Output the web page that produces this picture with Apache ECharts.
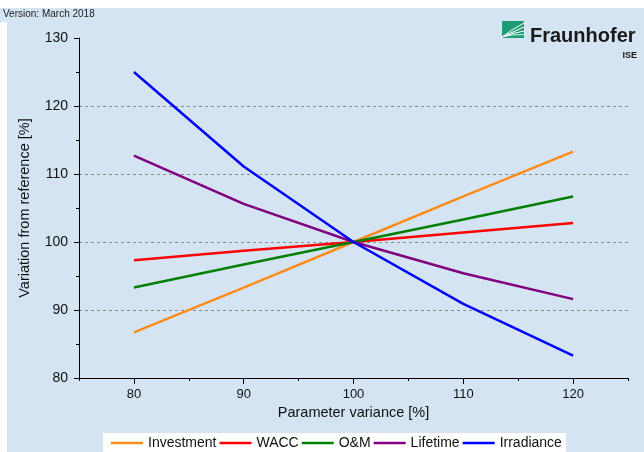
<!DOCTYPE html>
<html>
<head>
<meta charset="utf-8">
<script src="https://cdn.jsdelivr.net/npm/echarts@6/dist/echarts.min.js"></script>
<style>
html,body{margin:0;padding:0;background:#fff;}
#chart{width:644px;height:452px;}
</style>
</head>
<body>
<div id="chart"></div>
<script>
const xValues = [80, 90, 100, 110, 120];
const xTickLabels = [80, 90, 100, 110, 120];
const xMinorTicks = [75, 85, 95, 105, 115, 125];
const seriesNames = ['Investment', 'WACC', 'O&M', 'Lifetime', 'Irradiance'];
const investment = [86.7, 93.3, 100, 106.7, 113.3];
const wacc = [97.3, 98.7, 100, 101.4, 102.8];
const om = [93.3, 96.7, 100, 103.3, 106.7];
const lifetime = [112.7, 105.6, 100, 95.4, 91.6];
const irradiance = [125.0, 111.1, 100, 90.9, 83.3];
const seriesColors = ['#ff8c1a', '#ff0000', '#008000', '#800080', '#0000ff'];

const FONT = 'Liberation Sans, Arial, sans-serif';
const allValues = [investment, wacc, om, lifetime, irradiance];

const chart = echarts.init(document.getElementById('chart'), null, {renderer: 'canvas'});

const series = seriesNames.map((name, i) => ({
  name: name,
  type: 'line',
  xAxisIndex: 0,
  yAxisIndex: 0,
  symbol: 'none',
  data: xValues.map((x, j) => [x, allValues[i][j]]),
  lineStyle: {color: seriesColors[i], width: 2.5},
  itemStyle: {color: seriesColors[i]},
  emphasis: {disabled: true},
  animation: false
}));

const option = {
  backgroundColor: '#d5e4f2',
  animation: false,
  textStyle: {fontFamily: FONT},
  grid: {left: 79, right: 16, top: 38, bottom: 74, containLabel: false},
  xAxis: [{
    type: 'value',
    min: 75, max: 125,
    name: 'Parameter variance [%]',
    nameLocation: 'middle',
    nameGap: 25,
    nameTextStyle: {fontSize: 14.5, color: '#111', fontFamily: FONT},
    axisLine: {show: true, lineStyle: {color: '#000', width: 1}},
    axisTick: {show: true, length: 6, customValues: xTickLabels, lineStyle: {color: '#000'}},
    axisLabel: {show: true, customValues: xTickLabels, margin: 10, fontSize: 13, color: '#111', fontFamily: FONT},
    splitLine: {show: false}
  }, {
    type: 'value',
    min: 75, max: 125,
    position: 'bottom',
    gridIndex: 0,
    axisLine: {show: false},
    axisTick: {show: true, length: 3, customValues: xMinorTicks, lineStyle: {color: '#000'}},
    axisLabel: {show: false},
    splitLine: {show: false}
  }],
  yAxis: {
    type: 'value',
    min: 80, max: 130, interval: 10,
    name: 'Variation from reference [%]',
    nameLocation: 'middle',
    nameGap: 47,
    nameTextStyle: {fontSize: 14.5, color: '#111', fontFamily: FONT},
    axisLine: {show: true, lineStyle: {color: '#000', width: 1}},
    axisTick: {show: true, length: 5, lineStyle: {color: '#000'}},
    minorTick: {show: true, splitNumber: 2, length: 3, lineStyle: {color: '#000'}},
    axisLabel: {margin: 11, fontSize: 14, color: '#111', fontFamily: FONT},
    splitLine: {show: true, showMinLine: false, showMaxLine: false, lineStyle: {color: '#8c8c8c', type: [3, 3], width: 1}}
  },
  legend: {
    show: true,
    data: seriesNames,
    left: 103,
    top: 433,
    orient: 'horizontal',
    backgroundColor: '#ffffff',
    padding: [3, 4, 3, 8],
    itemGap: 3,
    itemWidth: 32,
    itemHeight: 2.5,
    icon: 'rect',
    textStyle: {fontSize: 14, color: '#111', fontFamily: FONT},
    selectedMode: false
  },
  graphic: [
    {type: 'rect', silent: true, z: 100, shape: {x: 0, y: 0, width: 644, height: 8}, style: {fill: '#ffffff'}},
    {type: 'rect', silent: true, z: 100, shape: {x: 0, y: 22, width: 7, height: 430}, style: {fill: '#ffffff'}},
    {type: 'text', silent: true, z: 100, x: 3, y: 9, style: {text: 'Version: March 2018', font: '10px ' + FONT, fill: '#222'}},
    {type: 'rect', silent: true, z: 100, shape: {x: 502, y: 21, width: 22, height: 17}, style: {fill: '#1f9c76'}},
    {type: 'polyline', silent: true, z: 101, shape: {points: [[502, 37], [512, 30], [524, 23]]}, style: {stroke: '#ffffff', lineWidth: 1, fill: null}},
    {type: 'polyline', silent: true, z: 101, shape: {points: [[502, 37], [513, 32], [524, 27]]}, style: {stroke: '#ffffff', lineWidth: 1, fill: null}},
    {type: 'polyline', silent: true, z: 101, shape: {points: [[502, 37], [513, 33.5], [524, 31]]}, style: {stroke: '#ffffff', lineWidth: 1, fill: null}},
    {type: 'polyline', silent: true, z: 101, shape: {points: [[502, 37], [513, 35], [524, 34.5]]}, style: {stroke: '#ffffff', lineWidth: 0.8, fill: null}},
    {type: 'text', silent: true, z: 100, x: 530, y: 26, style: {text: 'Fraunhofer', font: 'bold 20px ' + FONT, fill: '#1a1a1a'}},
    {type: 'text', silent: true, z: 100, x: 637, y: 51, style: {text: 'ISE', font: 'bold 9px ' + FONT, fill: '#1a1a1a', align: 'right'}}
  ],
  series: series
};
chart.setOption(option);
</script>
</body>
</html>
